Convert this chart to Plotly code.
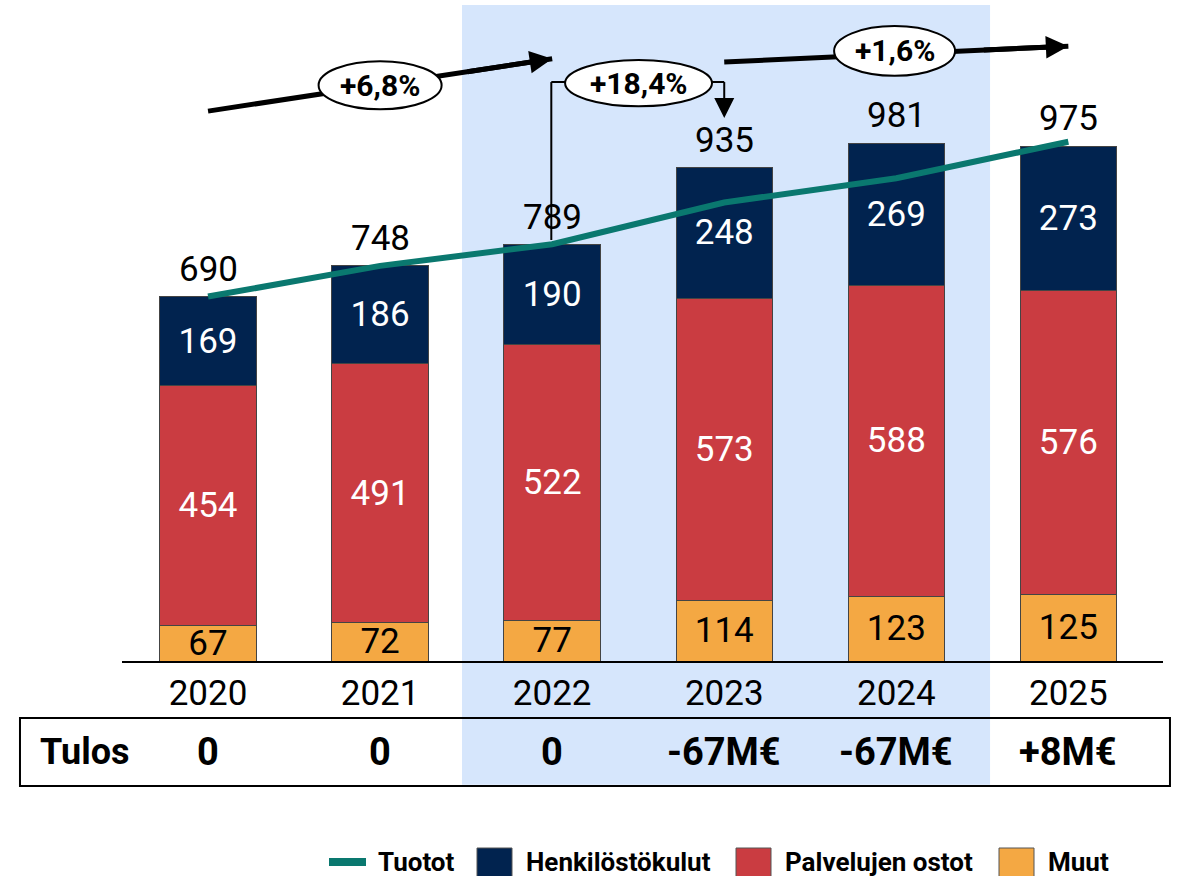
import plotly.graph_objects as go

# ---------------- data ----------------
years = ["2020", "2021", "2022", "2023", "2024", "2025"]
muut = [67, 72, 77, 114, 123, 125]
palvelujen_ostot = [454, 491, 522, 573, 588, 576]
henkilostokulut = [169, 186, 190, 248, 269, 273]
totals = [690, 748, 789, 935, 981, 975]
tulos = [0, 0, 0, -67, -67, 8]
growth_labels = ["+6,8%", "+18,4%", "+1,6%"]

tuotot = [t + r for t, r in zip(totals, tulos)]
x = list(range(len(years)))

NAVY = "#01234f"
RED = "#ca3c41"
ORANGE = "#f4a843"
TEAL = "#0a786f"
SHADE = "#d6e6fc"
FONT = "Roboto"

def tulos_label(v):
    if v == 0:
        return "0"
    return ("+" if v > 0 else "-") + f"{abs(v)}M€"

fig = go.Figure()
bar_common = dict(x=x, width=0.56, textposition="inside", insidetextanchor="middle",
                  textangle=0, constraintext="none", hoverinfo="skip",
                  texttemplate="%{y}")
fig.add_bar(y=muut, name="Muut", marker=dict(color=ORANGE, line=dict(color="#444", width=1)),
            textfont=dict(color="black", size=35, family=FONT), **bar_common)
fig.add_bar(y=palvelujen_ostot, name="Palvelujen ostot",
            marker=dict(color=RED, line=dict(color="#444", width=1)),
            textfont=dict(color="white", size=35, family=FONT), **bar_common)
fig.add_bar(y=henkilostokulut, name="Henkilöstökulut",
            marker=dict(color=NAVY, line=dict(color="#444", width=1)),
            textfont=dict(color="white", size=35, family=FONT), **bar_common)
fig.add_scatter(x=x, y=tuotot, mode="lines", name="Tuotot",
                line=dict(color=TEAL, width=6), hoverinfo="skip")

annotations = []
shapes = []

# totals above bars
for xi, t in zip(x, totals):
    annotations.append(dict(x=xi, y=t, xref="x", yref="y", text=str(t), showarrow=False,
                            xanchor="center", yanchor="middle", yshift=27,
                            font=dict(size=35, family=FONT, color="black")))

# shaded area (2022-2024)
shapes.append(dict(type="rect", xref="x", yref="paper", x0=1.476, x1=4.545, y0=-0.189, y1=1.0015,
                   fillcolor=SHADE, line=dict(width=0), layer="below"))

# Tulos table
shapes.append(dict(type="rect", xref="paper", yref="paper", x0=-0.098, x1=1.0067,
                   y0=-0.1908, y1=-0.087, fillcolor="rgba(0,0,0,0)",
                   line=dict(color="black", width=2)))
TY = -0.139
annotations.append(dict(x=-0.0355, y=TY, xref="paper", yref="paper", text="<b>Tulos</b>",
                        showarrow=False, xanchor="center", yanchor="middle",
                        font=dict(size=36, family=FONT, color="black")))
for xi, v in zip(x, tulos):
    annotations.append(dict(x=xi, y=TY, xref="x", yref="paper", text=f"<b>{tulos_label(v)}</b>",
                            showarrow=False, xanchor="center", yanchor="middle",
                            font=dict(size=38, family=FONT, color="black")))

# growth arrows
def ellipse(cx, cy, w, h, label):
    shapes.append(dict(type="circle", xref="x", yref="y", x0=cx - w / 2, x1=cx + w / 2,
                       y0=cy - h / 2, y1=cy + h / 2, fillcolor="white",
                       line=dict(color="black", width=2), layer="above"))
    annotations.append(dict(x=cx, y=cy, xref="x", yref="y", text=f"<b>{label}</b>",
                            showarrow=False, xanchor="center", yanchor="middle",
                            font=dict(size=30, family=FONT, color="black")))

def thick_arrow(x0, y0, x1, y1):
    shapes.append(dict(type="line", xref="x", yref="y", x0=x0, y0=y0, x1=x1, y1=y1,
                       line=dict(color="black", width=5), layer="above"))
    fx = 0.25
    annotations.append(dict(x=x1, y=y1, ax=x1 - fx * (x1 - x0), ay=y1 - fx * (y1 - y0),
                            xref="x", yref="y", axref="x", ayref="y", text="",
                            showarrow=True, arrowhead=2, arrowwidth=5, arrowsize=0.9,
                            arrowcolor="black", standoff=0))

# arrow 1 : 2020 -> 2022
thick_arrow(0.0, 1041, 2.0, 1140)
ellipse(1.0, 1090, 0.715, 91, growth_labels[0])

# bracket 2022 -> 2023
BY = 1096
shapes.append(dict(type="line", xref="x", yref="y", x0=1.995, x1=1.995, y0=797, y1=BY,
                   line=dict(color="black", width=2), layer="above"))
shapes.append(dict(type="line", xref="x", yref="y", x0=1.995, x1=2.2, y0=BY, y1=BY,
                   line=dict(color="black", width=2), layer="above"))
shapes.append(dict(type="line", xref="x", yref="y", x0=2.8, x1=3.0, y0=BY, y1=BY,
                   line=dict(color="black", width=2), layer="above"))
shapes.append(dict(type="line", xref="x", yref="y", x0=3.0, x1=3.0, y0=BY, y1=1050,
                   line=dict(color="black", width=2), layer="above"))
annotations.append(dict(x=3.0, y=1028, ax=3.0, ay=1060, xref="x", yref="y", axref="x", ayref="y",
                        text="", showarrow=True, arrowhead=2, arrowwidth=2, arrowsize=2.0,
                        arrowcolor="black", standoff=0))
ellipse(2.502, 1094, 0.854, 88, growth_labels[1])

# arrow 3 : 2023 -> 2025
thick_arrow(3.0, 1134, 5.0, 1164)
ellipse(3.99, 1155, 0.703, 94, growth_labels[2])

# manual legend
LY = -0.3069
shapes.append(dict(type="line", xref="paper", yref="paper", x0=(329 - 122) / 1041, x1=(366 - 122) / 1041,
                   y0=LY, y1=LY, line=dict(color=TEAL, width=8)))
legend_items = [("Tuotot", None, 376), ("Henkilöstökulut", NAVY, 524),
                ("Palvelujen ostot", RED, 783), ("Muut", ORANGE, 1046)]
for label, col, tx in legend_items:
    if col is not None:
        sx0 = (tx - 47 - 122) / 1041
        sx1 = (tx - 12 - 122) / 1041
        shapes.append(dict(type="rect", xref="paper", yref="paper", x0=sx0, x1=sx1,
                           y0=(661 - 848) / 655, y1=(661 - 880) / 655, fillcolor=col,
                           line=dict(color="#555", width=1)))
    annotations.append(dict(x=(tx - 122) / 1041, y=LY, xref="paper", yref="paper",
                            text=f"<b>{label}</b>", showarrow=False, xanchor="left",
                            yanchor="middle",
                            font=dict(size=26, family=FONT, color="black")))

fig.update_layout(
    width=1177, height=876, autosize=False,
    margin=dict(l=122, r=14, t=6, b=215),
    barmode="stack", showlegend=False,
    paper_bgcolor="white", plot_bgcolor="rgba(0,0,0,0)",
    shapes=shapes, annotations=annotations,
    font=dict(family=FONT, color="black"),
)
fig.update_xaxes(range=[-0.5, 5.55], tickvals=x, ticktext=years, showgrid=False, zeroline=False,
                 showline=True, linecolor="black", linewidth=1.5, ticks="",
                 tickfont=dict(size=35, family=FONT, color="black"), fixedrange=True)
fig.update_yaxes(range=[0, 1240], visible=False, showgrid=False, zeroline=False, fixedrange=True)

fig.write_html("out.html", config={"displayModeBar": False},
               post_script="document.body.style.margin='0';document.body.style.overflow='hidden';")
